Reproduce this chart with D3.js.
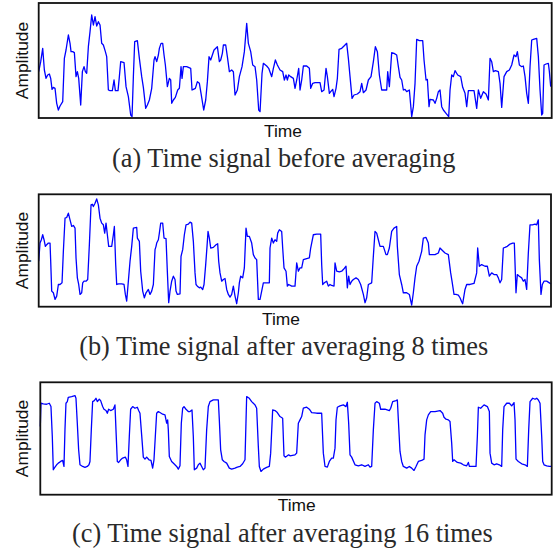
<!DOCTYPE html>
<html>
<head>
<meta charset="utf-8" />
<title>Time signal averaging</title>
<script src="https://cdn.jsdelivr.net/npm/d3@7"></script>
<style>
    body { margin: 0; background: #fff; }
    .box { fill: none; stroke: #111; stroke-width: 1.8px; }
    .sig { fill: none; stroke: #0000ff; stroke-width: 1.3px; stroke-linejoin: round; }
    .lab { font-family: "Liberation Sans", Arial, sans-serif; font-size: 17.4px; fill: #111; }
    .cap { font-family: "Liberation Serif", "Times New Roman", serif; font-size: 26.3px; fill: #2a2a2a; }
</style>
</head>
<body>
<svg id="CHART" width="559" height="552"></svg>
<script>
    /* signal samples, time in sample units, amplitude in arbitrary units */
    var timeA = [0,6,12,17,22,27,32,36,40,44,49,54,59,64,72,77,82,89,94,97,102,107,112,116,120,126,131,136,140,144,149,154,159,164,169,174,179,184,189,194,200,204,209,214,221,226,230,238,242,246,256,262,269,276,280,284,288,296,302,309,314,321,326,332,339,346,349,354,359,362,367,372,376,380,386,392,396,399,404,410,417,422,427,430,434,444,456,460,464,470,476,482,487,495,501,506,511,516,526,536,542,546,551,554,561,566,572,579,584,589,596,602,610,617,624,629,636,642,649,654,660,664,670,674,684,690,699,704,710,716,724,732,737,742,746,750,756,764,769,774,780,784,789,794,804,812,816,822,829,844,849,856,862,866,872,876,882,886,892,896,901,909,916,924,929,934,940,946,956,964,969,974,982,989,997,1004,1010,1016,1022,1029,1036,1044,1047,1052,1059,1066,1074,1079,1084,1089,1094,1099,1104,1112,1119,1124,1129,1134,1142,1152,1156,1162,1166,1171,1174,1184,1189,1194,1199,1204,1209,1214,1222,1230,1234,1239,1244,1249,1257,1266,1272,1279,1284,1289,1299,1306,1314,1319,1326,1334,1342,1349,1354,1359,1364,1370,1379,1384,1389,1396,1404,1412,1419,1426,1432,1436,1442,1449,1454,1459,1464,1469,1474,1479,1484,1494,1499,1504,1509,1512,1516,1522,1529,1532,1536];
    var ampA = [139,169,209,144,119,129,132,119,86,92,89,44,24,36,49,179,204,249,224,199,199,196,124,139,119,39,139,154,139,134,214,259,309,279,304,276,289,279,224,219,199,184,84,82,82,114,82,82,124,169,166,94,64,9,4,124,229,232,179,124,92,29,39,54,89,174,184,169,189,209,224,224,189,159,94,119,114,44,54,62,84,89,154,119,154,154,149,84,86,89,109,104,74,24,54,109,184,174,204,214,169,174,194,219,219,184,139,144,139,69,84,124,154,199,284,224,199,159,154,114,24,19,134,164,156,149,124,149,174,159,144,139,114,129,114,129,124,119,89,114,149,84,114,156,156,149,89,104,106,106,79,84,149,124,74,79,86,64,89,119,206,209,216,224,179,124,59,69,72,79,104,76,84,114,124,169,214,199,129,84,84,84,139,94,196,194,189,154,122,114,84,86,79,84,4,34,104,236,232,232,174,114,116,34,56,54,44,59,79,84,34,24,14,4,84,129,124,142,129,124,92,74,34,82,82,82,29,84,59,79,72,54,179,169,139,142,139,104,32,124,139,144,159,189,184,199,159,154,156,124,74,44,154,234,236,239,184,84,9,14,159,162,164,139,94];

    var timeB = [0,4,8,12,16,20,24,29,34,36,39,44,49,54,59,64,70,74,79,84,89,94,99,104,109,112,116,120,124,129,132,136,142,147,152,157,161,164,169,174,179,184,189,194,198,202,206,210,219,224,227,231,234,240,249,256,260,264,269,274,279,284,294,296,302,306,312,317,322,329,334,339,344,349,352,354,359,362,366,372,376,382,386,390,394,399,404,409,412,416,424,427,432,437,442,449,454,459,464,469,472,476,482,486,492,496,501,505,508,512,516,524,532,537,540,544,549,554,559,564,569,574,579,584,589,594,599,602,606,612,617,622,626,632,639,644,649,654,659,664,669,674,684,692,694,699,704,709,714,717,722,729,732,736,742,746,750,759,769,774,779,784,789,794,804,812,816,819,824,834,846,849,852,857,864,869,874,879,886,889,894,902,909,914,922,926,930,934,939,944,952,959,966,974,979,984,989,999,1004,1009,1014,1019,1024,1034,1042,1046,1052,1059,1066,1074,1076,1082,1089,1094,1104,1112,1119,1124,1129,1134,1141,1149,1154,1162,1169,1172,1179,1189,1199,1204,1209,1219,1229,1236,1240,1246,1252,1259,1264,1269,1272,1279,1284,1294,1306,1314,1317,1322,1329,1339,1346,1352,1359,1366,1374,1379,1384,1389,1394,1399,1406,1414,1422,1427,1432,1436,1442,1449,1454,1459,1464,1469,1474,1481,1489,1494,1499,1502,1507,1511,1516,1524,1532,1537];
    var ampB = [137,192,202,217,202,182,187,192,192,137,47,42,22,32,67,67,72,167,267,269,282,262,242,245,237,147,87,67,37,42,72,77,77,82,187,307,309,302,312,325,307,267,252,247,222,252,217,182,182,217,242,127,67,69,69,67,37,17,77,137,182,237,239,207,197,107,47,27,42,52,37,47,67,172,182,192,202,222,252,252,207,205,105,12,47,77,92,82,47,37,39,152,172,217,247,249,255,252,197,102,67,62,57,59,52,67,127,182,227,207,177,179,187,190,137,102,77,82,85,52,37,29,37,62,32,9,42,72,92,87,117,237,212,212,192,157,147,142,22,22,47,72,72,72,177,207,192,202,197,222,232,227,177,117,107,62,67,62,62,132,107,117,117,142,145,147,177,192,217,219,219,127,67,72,77,62,67,64,62,132,107,105,107,112,122,57,92,67,77,82,87,82,67,37,12,27,67,72,152,227,222,202,182,182,157,157,177,227,237,242,182,97,67,42,42,37,5,42,87,122,137,167,207,209,192,157,157,157,162,177,172,162,157,102,77,37,37,35,27,15,9,52,67,67,70,102,177,122,127,122,122,92,102,97,97,87,72,82,177,179,182,189,192,192,42,97,92,87,77,82,52,162,247,247,249,247,262,142,37,67,77,77,72,69];

    var timeC = [0,2,9,19,27,32,36,39,44,49,54,61,67,71,74,77,81,84,94,104,107,111,115,119,127,134,141,146,149,153,157,162,167,171,177,181,187,191,197,201,205,211,219,224,227,231,235,241,247,255,259,263,267,271,277,284,291,295,299,304,309,314,319,326,332,337,341,345,349,354,359,367,374,379,382,384,387,394,401,409,414,419,423,427,431,437,444,449,455,459,462,469,474,479,484,489,494,499,504,509,519,534,537,541,546,551,559,567,574,584,591,599,607,614,619,627,634,639,644,649,654,657,662,669,679,687,691,697,704,711,719,727,731,735,741,745,749,764,769,774,779,784,789,799,807,814,829,844,849,854,861,867,874,879,884,887,891,899,909,917,921,925,929,934,944,954,964,974,984,989,994,999,1004,1009,1017,1021,1034,1047,1051,1057,1067,1071,1074,1079,1084,1089,1099,1107,1114,1121,1127,1134,1144,1151,1154,1159,1164,1171,1184,1199,1207,1211,1217,1224,1229,1234,1237,1241,1251,1261,1269,1279,1284,1287,1297,1307,1311,1314,1321,1331,1341,1347,1349,1354,1361,1369,1377,1384,1387,1391,1399,1407,1414,1421,1424,1427,1434,1444,1454,1461,1465,1469,1477,1484,1489,1494,1499,1504,1507,1511,1519,1527,1534];
    var ampC = [205,275,273,272,275,265,175,75,83,90,95,100,103,85,195,275,280,293,295,298,290,215,135,90,85,82,85,90,100,195,280,283,290,280,287,283,265,257,253,245,257,253,257,270,195,100,97,105,110,113,105,85,175,257,265,260,263,253,245,180,113,107,113,105,103,80,105,175,245,250,247,242,240,215,225,195,115,100,93,85,77,87,215,260,265,257,250,250,255,175,75,80,90,95,85,75,80,195,265,280,285,285,225,135,105,100,95,80,77,80,83,85,93,105,295,290,280,275,270,260,145,85,70,77,82,85,125,255,253,247,235,230,117,113,117,120,117,120,125,215,225,235,260,263,257,247,245,245,125,85,83,100,110,110,140,225,263,267,270,265,278,215,120,113,90,87,90,85,90,83,85,195,275,280,275,257,257,253,260,280,283,285,225,130,100,85,80,85,80,73,85,100,103,107,180,225,240,250,250,253,245,233,227,225,220,155,100,105,97,95,90,87,97,85,85,85,175,263,260,270,265,250,125,95,90,93,90,85,195,265,275,275,267,277,225,107,100,93,90,85,195,280,290,287,290,285,275,175,100,90,87,85,85];

    var timeMax = [1539, 1537, 1534];
    var ampMax = [345, 339, 338];
    var captions = ["(a) Time signal before averaging", "(b) Time signal after averaging 8 times", "(c) Time signal after averaging 16 times"];
    var yLabel = "Amplitude";
    var xLabel = "Time";

    // where each panel sits on the page
    var Panels = [
        { x0: 38.7, x1: 551.7, y0: 3, y1: 118, timeX: 283, timeY: 136.7, capX: 283.7, capY: 167 },
        { x0: 38.7, x1: 551, y0: 194.3, y1: 306.7, timeX: 281, timeY: 325, capX: 283.7, capY: 355 },
        { x0: 40.3, x1: 551.7, y0: 382.3, y1: 494.7, timeX: 296.7, timeY: 511, capX: 282.4, capY: 542 }
    ];
    var Series = [[timeA, ampA], [timeB, ampB], [timeC, ampC]];

    var svg = d3.select("#CHART");

    Panels.forEach(function (P, i) {
        var T = Series[i][0], A = Series[i][1];
        var x = d3.scaleLinear().domain([0, timeMax[i]]).range([P.x0, P.x1]);
        var y = d3.scaleLinear().domain([0, ampMax[i]]).range([P.y1, P.y0]);
        var g = svg.append("g");

        var line = d3.line()
            .x(function (d) { return x(d); })
            .y(function (d, j) { return y(A[j]); });

        g.append("path").attr("class", "sig").attr("d", line(T));

        g.append("rect").attr("class", "box")
            .attr("x", P.x0).attr("y", P.y0)
            .attr("width", P.x1 - P.x0).attr("height", P.y1 - P.y0);

        g.append("text").attr("class", "lab")
            .attr("transform", "translate(28," + ((P.y0 + P.y1) / 2) + ") rotate(-90)")
            .attr("text-anchor", "middle")
            .text(yLabel);

        g.append("text").attr("class", "lab")
            .attr("x", P.timeX).attr("y", P.timeY)
            .attr("text-anchor", "middle")
            .text(xLabel);

        g.append("text").attr("class", "cap")
            .attr("x", P.capX).attr("y", P.capY)
            .attr("text-anchor", "middle")
            .text(captions[i]);
    });
</script>
</body>
</html>
